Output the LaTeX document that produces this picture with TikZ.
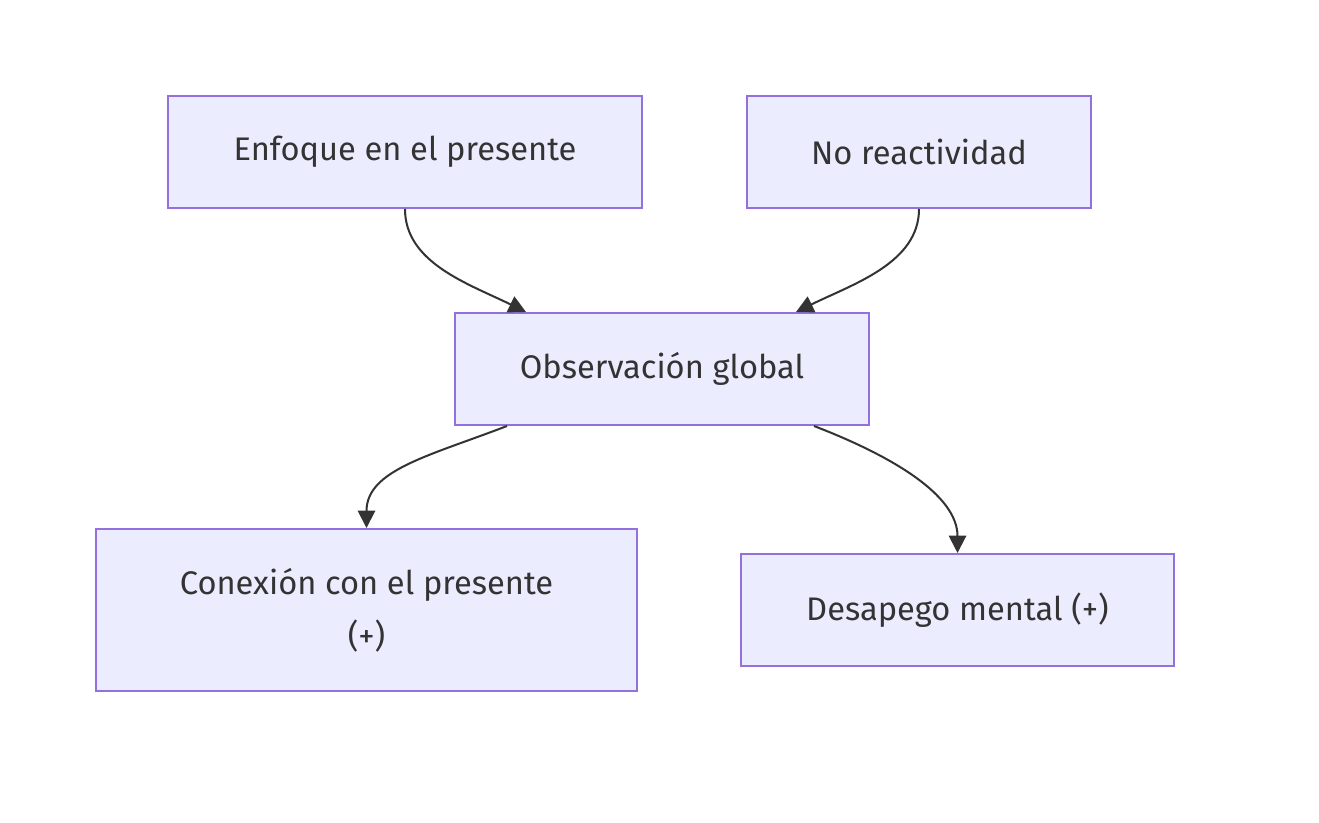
\documentclass[tikz,border=0pt]{standalone}
\usepackage{fontspec}
\setmainfont{Fira Sans}
\usetikzlibrary{arrows.meta,calc}
\definecolor{boxfill}{HTML}{ECECFF}
\definecolor{boxline}{HTML}{9370DB}
\definecolor{ink}{HTML}{333333}
\begin{document}
\begin{tikzpicture}[x=0.75pt,y=-0.75pt,
  box/.style={draw=boxline,fill=boxfill,line width=1.5pt,text=ink,
    font=\fontsize{24.5}{40}\selectfont,align=center,inner sep=0pt},
  conn/.style={draw=ink,line width=1.5pt,-{Triangle[length=13pt,width=13pt]}}]
\fill[white,use as bounding box] (0,0) rectangle (1319,823);
\node[box,minimum width=474*0.75pt,minimum height=112*0.75pt] (A) at (405,152) {Enfoque en el presente};
\node[box,minimum width=344*0.75pt,minimum height=112*0.75pt] (B) at (919,152) {No reactividad};
\node[box,minimum width=414*0.75pt,minimum height=112*0.75pt] (C) at (662,369) {Observación global};
\node[box,minimum width=541*0.75pt,minimum height=162*0.75pt] (D) at (366.5,610) {Conexión con el presente\\(+)};
\node[box,minimum width=433*0.75pt,minimum height=112*0.75pt] (E) at (957.5,610) {Desapego mental (+)};
\coordinate (Cin1) at ($(C.north west)+(72,0)$);
\coordinate (Cin2) at ($(C.north west)+(342,0)$);
\coordinate (Cout1) at ($(C.south west)+(53,0)$);
\coordinate (Cout2) at ($(C.south west)+(360,0)$);
\draw[conn] (A.south) .. controls ($(A.south)+(0,54)$) and ($(Cin1)+(-57,-28)$) .. (Cin1);
\draw[conn] (B.south) .. controls ($(B.south)+(0,54)$) and ($(Cin2)+(57,-28)$) .. (Cin2);
\draw[conn] (Cout1) .. controls ($(Cout1)+(-78,30)$) and ($(D.north)+(0,-58)$) .. (D.north);
\draw[conn] (Cout2) .. controls ($(Cout2)+(78,30)$) and ($(E.north)+(0,-58)$) .. (E.north);
\end{tikzpicture}
\end{document}
